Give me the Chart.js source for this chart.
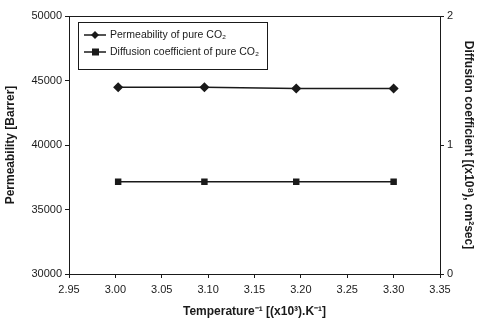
<!DOCTYPE html>
<html><head><meta charset="utf-8">
<script src="https://cdn.jsdelivr.net/npm/chart.js@4/dist/chart.umd.min.js"></script>
<style>html,body{margin:0;padding:0;background:#fff}#wrap{width:481px;height:327px}</style>
</head><body><div id="wrap"><canvas id="c" width="481" height="327"></canvas></div>
<script>
const invTemperature = [3.003, 3.096, 3.195, 3.300];
const permeability = [44480, 44480, 44380, 44380];
const diffusion = [0.715, 0.715, 0.715, 0.715];
const xTickValues = [2.95, 3.00, 3.05, 3.10, 3.15, 3.20, 3.25, 3.30, 3.35];
const yLeftTicks = [30000, 35000, 40000, 45000, 50000];
const yRightTicks = [0, 1, 2];
const seriesNames = ['Permeability of pure CO\u2082', 'Diffusion coefficient of pure CO\u2082'];

const FONT = '"Liberation Sans", Arial, sans-serif';
const INK = '#1a1a1a';

const boxPlugin = {
  id: 'box',
  afterDatasetsDraw(chart) {
    const {ctx, chartArea: a} = chart;
    ctx.save();
    ctx.strokeStyle = INK; ctx.lineWidth = 1;
    ctx.beginPath();
    ctx.moveTo(a.left, a.top + 0.5); ctx.lineTo(a.right, a.top + 0.5);
    ctx.stroke();
    const lx = 78, ly = 22, lw = 189, lh = 47;
    ctx.fillStyle = '#fff';
    ctx.fillRect(lx, ly, lw, lh);
    ctx.strokeRect(lx + 0.5, ly + 0.5, lw, lh);
    const rows = [35, 52];
    chart.data.datasets.forEach((ds, i) => {
      const y = rows[i];
      ctx.strokeStyle = INK; ctx.lineWidth = 1.5;
      ctx.beginPath(); ctx.moveTo(84, y); ctx.lineTo(106, y); ctx.stroke();
      ctx.fillStyle = INK;
      if (ds.pointStyle === 'rect') {
        ctx.fillRect(92, y - 3.5, 7, 7);
      } else {
        ctx.beginPath(); ctx.moveTo(95, y - 4); ctx.lineTo(99, y); ctx.lineTo(95, y + 4); ctx.lineTo(91, y); ctx.closePath(); ctx.fill();
      }
      ctx.font = '10.5px ' + FONT;
      ctx.textBaseline = 'middle';
      ctx.textAlign = 'left';
      ctx.fillText(ds.label, 110, y);
    });
    ctx.restore();
  }
};

new Chart(document.getElementById('c'), {
  type: 'scatter',
  data: {
    datasets: [
      {
        label: seriesNames[0],
        data: invTemperature.map((x, i) => ({x, y: permeability[i]})),
        yAxisID: 'y',
        showLine: true,
        borderColor: INK, backgroundColor: INK,
        borderWidth: 1.5,
        pointStyle: 'rectRot', pointRadius: 4, pointHoverRadius: 4
      },
      {
        label: seriesNames[1],
        data: invTemperature.map((x, i) => ({x, y: diffusion[i]})),
        yAxisID: 'y2',
        showLine: true,
        borderColor: INK, backgroundColor: INK,
        borderWidth: 1.5,
        pointStyle: 'rect', pointRadius: 3.5, pointHoverRadius: 3.5
      }
    ]
  },
  options: {
    responsive: false,
    animation: false,
    devicePixelRatio: 1,
    layout: {padding: {top: 16, left: 0, right: 0, bottom: 0}},
    plugins: {legend: {display: false}, tooltip: {enabled: false}},
    scales: {
      x: {
        type: 'linear', min: 2.95, max: 3.35,
        afterBuildTicks: s => { s.ticks = xTickValues.map(v => ({value: v})); },
        afterFit: s => { s.height = 53; },
        ticks: {color: INK, font: {family: FONT, size: 11}, padding: 5, maxRotation: 0,
                callback: v => v.toFixed(2)},
        grid: {display: true, drawOnChartArea: false, drawTicks: true, tickLength: 4, color: INK},
        border: {display: true, color: INK, width: 1},
        title: {display: true, text: 'Temperature\u207B\u00B9 [(x10\u00B3).K\u207B\u00B9]', color: INK,
                font: {family: FONT, size: 12, weight: 'bold'}, padding: {top: 0, bottom: 8}}
      },
      y: {
        position: 'left', min: 30000, max: 50000,
        afterBuildTicks: s => { s.ticks = yLeftTicks.map(v => ({value: v})); },
        afterFit: s => { s.width = 69; },
        ticks: {color: INK, font: {family: FONT, size: 11}, padding: 3, callback: v => String(v)},
        grid: {display: true, drawOnChartArea: false, drawTicks: true, tickLength: 4, color: INK},
        border: {display: true, color: INK, width: 1},
        title: {display: true, text: 'Permeability [Barrer]', color: INK,
                font: {family: FONT, size: 12, weight: 'bold'}, padding: {top: 3, bottom: 0}}
      },
      y2: {
        position: 'right', min: 0, max: 2,
        afterBuildTicks: s => { s.ticks = yRightTicks.map(v => ({value: v})); },
        afterFit: s => { s.width = 41; },
        ticks: {color: INK, font: {family: FONT, size: 11}, padding: 3, callback: v => String(v)},
        grid: {display: true, drawOnChartArea: false, drawTicks: true, tickLength: 4, color: INK},
        border: {display: true, color: INK, width: 1},
        title: {display: true, text: 'Diffusion coefficient [(x10\u2078), cm\u00B2sec]', color: INK,
                font: {family: FONT, size: 12, weight: 'bold'}, padding: {top: 5, bottom: 5}}
      }
    }
  },
  plugins: [boxPlugin]
});
</script>
</body></html>
